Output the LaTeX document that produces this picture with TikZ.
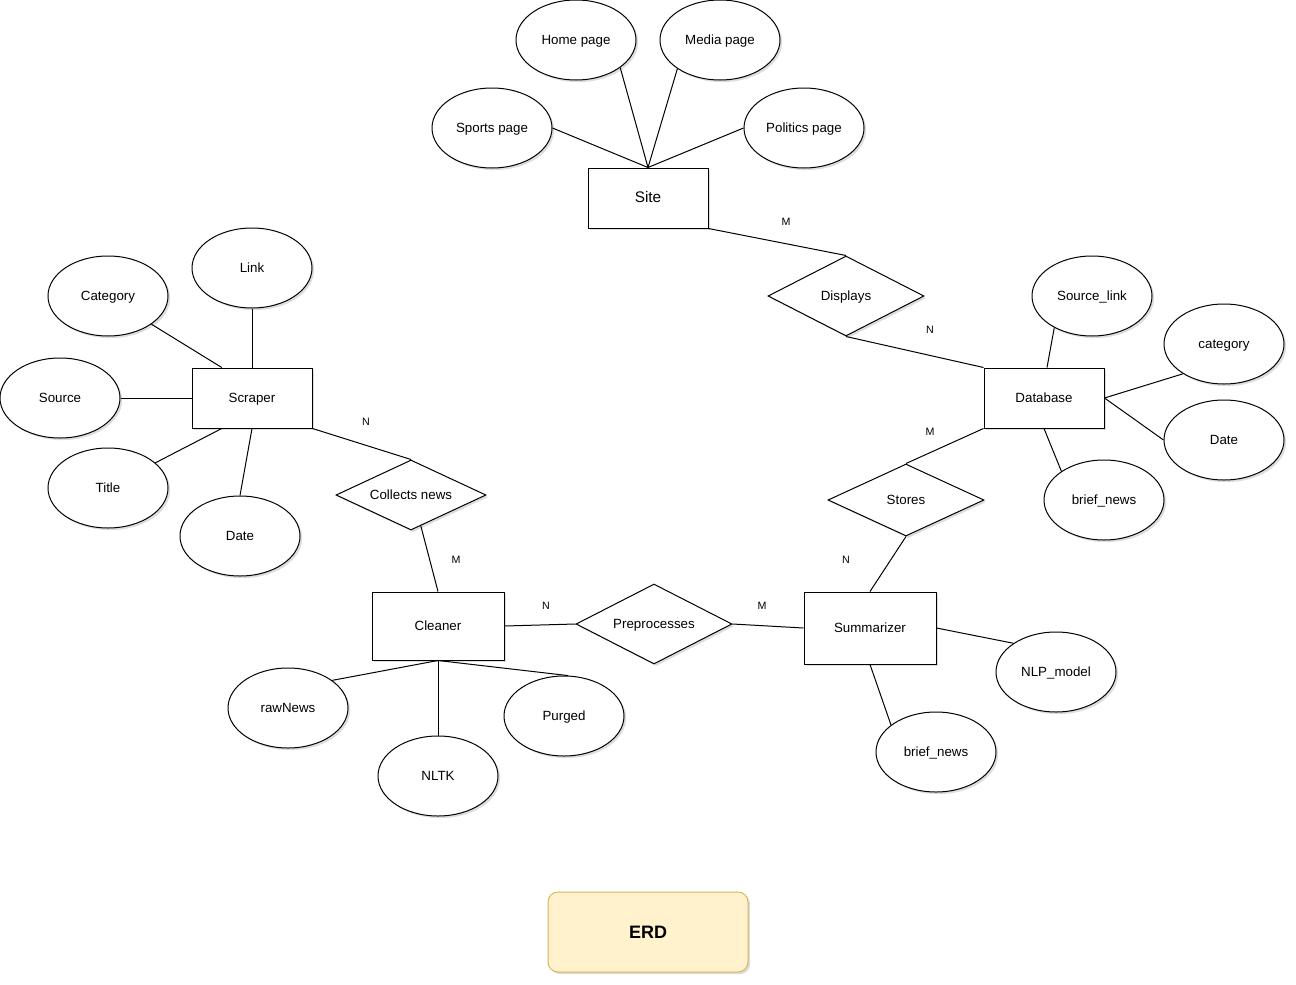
\documentclass[tikz,border=0pt]{standalone}
\usepackage{fontspec}
\setmainfont{Liberation Sans}
\usetikzlibrary{shapes.geometric,shadows,calc}
\definecolor{erdfill}{HTML}{FFF2CC}
\definecolor{erddraw}{HTML}{D6B656}
\begin{document}
\begin{tikzpicture}[x=0.75pt,y=-0.75pt,
  shadowed/.style={drop shadow={shadow xshift=1.6pt,shadow yshift=-1.6pt,opacity=0.22,fill=black!60}},
  txt/.style={font=\fontsize{10}{12}\selectfont,text height=1.5ex,text depth=0.25ex},
  attr/.style={ellipse,draw,fill=white,line width=0.75pt,minimum width=90pt,minimum height=60pt,inner sep=0pt,txt,shadowed},
  ent/.style={rectangle,draw,fill=white,line width=0.75pt,minimum width=90pt,minimum height=45pt,inner sep=0pt,txt,shadowed},
  rel/.style={diamond,draw,fill=white,line width=0.75pt,inner sep=0pt,shadowed},
  rtext/.style={label={[txt]center:#1}},
  card/.style={inner sep=0pt,font=\fontsize{8}{10}\selectfont},
  conn/.style={draw,line width=0.75pt},
  erdbox/.style={rectangle,rounded corners=7.5pt,draw=erddraw,fill=erdfill,line width=0.75pt,minimum width=150pt,minimum height=60pt,font=\bfseries\fontsize{13.5}{16}\selectfont,shadowed}
]
\useasboundingbox (0,0) rectangle (1296,985);

% Site group
\node[attr] (home) at (576,40) {Home page};
\node[attr] (media) at (720,40) {Media page};
\node[attr] (sports) at (492,128) {Sports page};
\node[attr] (politics) at (804,128) {Politics page};
\node[ent,font=\fontsize{11.5}{14}\selectfont] (site) at (648,198) {Site};

% Displays / Database
\node[rel,minimum width=117pt,minimum height=60pt,rtext=Displays] (displays) at (846,296) {};
\node[ent] (database) at (1044,398) {Database};
\node[attr] (srclink) at (1092,296) {Source\_link};
\node[attr] (dbcat) at (1224,344) {category};
\node[attr] (dbdate) at (1224,440) {Date};
\node[attr] (dbbrief) at (1104,500) {brief\_news};

% Stores / Summarizer
\node[rel,minimum width=117pt,minimum height=54pt,rtext=Stores] (stores) at (906,500) {};
\node[ent,minimum width=99pt,minimum height=54pt] (summ) at (870,628) {Summarizer};
\node[attr] (nlp) at (1056,672) {NLP\_model};
\node[attr] (brief2) at (936,752) {brief\_news};

% Preprocesses / Cleaner
\node[rel,minimum width=117pt,minimum height=60pt,rtext=Preprocesses] (prep) at (654,624) {};
\node[ent,minimum width=99pt,minimum height=51pt] (cleaner) at (438,626) {Cleaner};
\node[attr] (raw) at (288,708) {rawNews};
\node[attr] (nltk) at (438,776) {NLTK};
\node[attr] (purged) at (564,716) {Purged};

% Collects news / Scraper
\node[rel,minimum width=112.5pt,minimum height=52.5pt,rtext=Collects news] (collects) at (411,495) {};
\node[ent] (scraper) at (252,398) {Scraper};
\node[attr] (link) at (252,268) {Link};
\node[attr] (cat) at (108,296) {Category};
\node[attr] (source) at (60,398) {Source};
\node[attr] (title) at (108,488) {Title};
\node[attr] (date) at (240,536) {Date};

% Title box
\node[erdbox] (erd) at (648,932) {ERD};

% Connectors
\path[conn] (site.north) -- (sports.east);
\path[conn] (site.north) -- (home.-32);
\path[conn] (site.north) -- (media.-146);
\path[conn] (site.north) -- (politics.west);
\path[conn] (site.south east) -- (displays.north);
\path[conn] (displays.south) -- (database.north west);
\path[conn] ($(database.north)+(3,0)$) -- (srclink.-140);
\path[conn] (database.east) -- (dbcat.-144);
\path[conn] (database.east) -- (dbdate.west);
\path[conn] (database.south) -- (dbbrief.146);
\path[conn] (database.south west) -- (stores.north);
\path[conn] (stores.south) -- (summ.north);
\path[conn] (summ.east) -- (nlp.146);
\path[conn] (summ.south) -- (brief2.149);
\path[conn] (summ.west) -- (prep.east);
\path[conn] (prep.west) -- (cleaner.east);
\path[conn] (cleaner.south) -- (raw.32);
\path[conn] (cleaner.south) -- (nltk.north);
\path[conn] (cleaner.south) -- (purged.84);
\path[conn] ($(collects.south)!0.13!(collects.east)$) -- (cleaner.north);
\path[conn] (collects.north) -- (scraper.south east);
\path[conn] (link.south) -- (scraper.north);
\path[conn] (cat.-33) -- ($(scraper.north west)!0.25!(scraper.north east)$);
\path[conn] (source.east) -- (scraper.west);
\path[conn] (title.28) -- ($(scraper.south west)!0.25!(scraper.south east)$);
\path[conn] (scraper.south) -- (date.north);

% Cardinalities
\node[card] (c1) at (786,222) {M};
\node[card] (c2) at (930,330) {N};
\node[card] (c3) at (930,432) {M};
\node[card] (c4) at (846,560) {N};
\node[card] (c5) at (762,606) {M};
\node[card] (c6) at (546,606) {N};
\node[card] (c7) at (456,560) {M};
\node[card] (c8) at (366,422) {N};
\end{tikzpicture}
\end{document}
